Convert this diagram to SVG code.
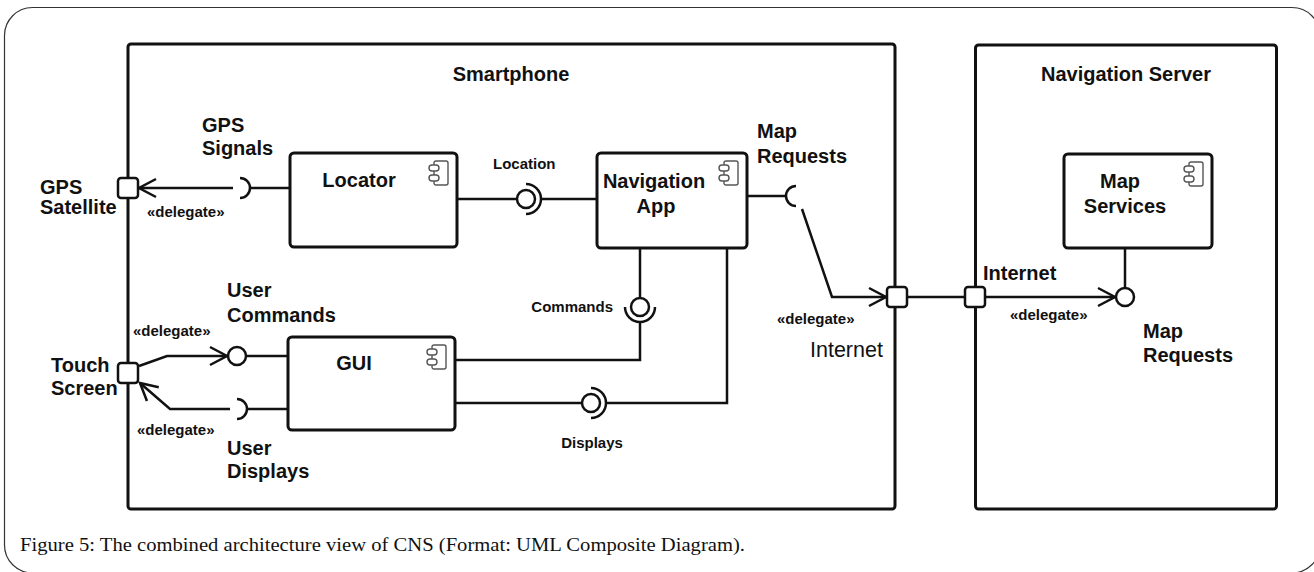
<svg xmlns="http://www.w3.org/2000/svg" width="1314" height="572" viewBox="0 0 1314 572">
  <style>
    .frame { fill: none; stroke: #333; stroke-width: 1.2; }
    .box { fill: #fff; stroke: #111; stroke-width: 3; }
    .part { fill: #fff; stroke: #111; stroke-width: 3; }
    .port { fill: #fff; stroke: #111; stroke-width: 2.5; }
    .wire { fill: none; stroke: #111; stroke-width: 2.5; }
    .ball { fill: #fff; stroke: #111; stroke-width: 2.5; }
    .icon { fill: #fff; stroke: #555; stroke-width: 1.4; }
    .lbl { font-family: "Liberation Sans", Arial, sans-serif; font-weight: bold; font-size: 20px; fill: #111; }
    .sm { font-family: "Liberation Sans", Arial, sans-serif; font-weight: bold; font-size: 15px; fill: #111; }
    .net { font-family: "Liberation Sans", Arial, sans-serif; font-weight: normal; font-size: 21.5px; fill: #111; }
    .cap { font-family: "Liberation Serif", "Times New Roman", serif; font-size: 19px; fill: #111; }
    .mid { text-anchor: middle; }
    .end { text-anchor: end; }
  </style>
  <defs>
    <marker id="open-arrow" viewBox="0 0 20 20" refX="18" refY="10" markerWidth="20" markerHeight="20" markerUnits="userSpaceOnUse" orient="auto" overflow="visible">
      <path d="M1,1 L18,10 L1,19" fill="none" stroke="#111" stroke-width="2.5"/>
    </marker>
    <!-- UML component glyph -->
    <g id="cmp-icon">
      <rect class="icon" x="0" y="0" width="14" height="24" rx="2"/>
      <rect class="icon" x="-5" y="4" width="10" height="6" rx="3"/>
      <rect class="icon" x="-5" y="14" width="10" height="6" rx="3"/>
    </g>
  </defs>

  <rect width="1314" height="572" fill="#fff"/>
  <rect class="frame" x="4.5" y="7.5" width="1315.5" height="565.5" rx="28"/>

  <!-- containers -->
  <g id="smartphone">
    <rect class="box" x="128" y="44" width="767" height="465" rx="3"/>
    <text class="lbl mid" x="511" y="81">Smartphone</text>
  </g>
  <g id="navigation-server">
    <rect class="box" x="975.5" y="45" width="301" height="464" rx="3"/>
    <text class="lbl mid" x="1126" y="81">Navigation Server</text>
  </g>

  <!-- parts -->
  <g id="locator">
    <rect class="part" x="290" y="153" width="167" height="94" rx="4"/>
    <use href="#cmp-icon" x="434" y="161"/>
    <text class="lbl mid" x="359" y="187">Locator</text>
  </g>
  <g id="navigation-app">
    <rect class="part" x="597" y="153" width="150" height="95" rx="4"/>
    <use href="#cmp-icon" x="724" y="161"/>
    <text class="lbl mid" x="654" y="188">Navigation</text>
    <text class="lbl mid" x="656" y="213">App</text>
  </g>
  <g id="gui">
    <rect class="part" x="288" y="337" width="167" height="93" rx="4"/>
    <use href="#cmp-icon" x="432" y="345"/>
    <text class="lbl mid" x="354" y="370">GUI</text>
  </g>
  <g id="map-services">
    <rect class="part" x="1064" y="154" width="148" height="94" rx="4"/>
    <use href="#cmp-icon" x="1189" y="162"/>
    <text class="lbl mid" x="1120" y="188">Map</text>
    <text class="lbl mid" x="1125" y="213">Services</text>
  </g>

  <!-- connectors and interface symbols -->
  <g id="connectors">
    <!-- GPS Signals -->
    <line class="wire" x1="290" y1="188" x2="250" y2="188"/>
    <path class="wire" d="M240,178 A10,10 0 0 1 240,198"/>
    <line class="wire" x1="233" y1="188" x2="139" y2="188" marker-end="url(#open-arrow)"/>

    <!-- Location -->
    <line class="wire" x1="457" y1="199" x2="517" y2="199"/>
    <circle class="ball" cx="526" cy="199" r="9"/>
    <path class="wire" d="M526,184 A15,15 0 0 1 526,214"/>
    <line class="wire" x1="541" y1="199" x2="597" y2="199"/>

    <!-- Map Requests (client side) -->
    <line class="wire" x1="747" y1="196" x2="786" y2="196"/>
    <path class="wire" d="M796,186 A10,10 0 0 0 796,206"/>
    <polyline class="wire" points="802,209 832,297 886,297" marker-end="url(#open-arrow)"/>

    <!-- Internet link between ports -->
    <line class="wire" x1="907" y1="297" x2="965" y2="297"/>

    <!-- Map Requests (server side) -->
    <line class="wire" x1="985" y1="297" x2="1115" y2="297" marker-end="url(#open-arrow)"/>
    <line class="wire" x1="1125" y1="248" x2="1125" y2="288"/>
    <circle class="ball" cx="1125" cy="297" r="9"/>

    <!-- Commands -->
    <line class="wire" x1="640" y1="248" x2="640" y2="298"/>
    <circle class="ball" cx="640" cy="307" r="9"/>
    <path class="wire" d="M625,307 A15,15 0 0 0 655,307"/>
    <polyline class="wire" points="640,322 640,360 455,360"/>

    <!-- Displays -->
    <line class="wire" x1="455" y1="403" x2="582" y2="403"/>
    <circle class="ball" cx="591" cy="403" r="9"/>
    <path class="wire" d="M591,388 A15,15 0 0 1 591,418"/>
    <polyline class="wire" points="606,403 727,403 727,248"/>

    <!-- User Commands -->
    <line class="wire" x1="288" y1="356" x2="246" y2="356"/>
    <circle class="ball" cx="237" cy="356" r="9"/>
    <polyline class="wire" points="139,366 167,356 227,356" marker-end="url(#open-arrow)"/>

    <!-- User Displays -->
    <line class="wire" x1="288" y1="409" x2="247" y2="409"/>
    <path class="wire" d="M237,399 A10,10 0 0 1 237,419"/>
    <polyline class="wire" points="230,409 170,409 140,383" marker-end="url(#open-arrow)"/>
  </g>

  <!-- ports -->
  <g id="port-gps">
    <rect class="port" x="118" y="178" width="20" height="20" rx="3"/>
    <text class="lbl" x="40" y="194">GPS</text>
    <text class="lbl" x="40" y="214">Satellite</text>
  </g>
  <g id="port-touch">
    <rect class="port" x="118" y="363" width="20" height="20" rx="3"/>
    <text class="lbl" x="51" y="372">Touch</text>
    <text class="lbl" x="51" y="395">Screen</text>
  </g>
  <g id="port-phone-internet">
    <rect class="port" x="887" y="287" width="20" height="20" rx="3"/>
    <text class="net" x="810" y="357">Internet</text>
  </g>
  <g id="port-server-internet">
    <rect class="port" x="965" y="287" width="20" height="20" rx="3"/>
    <text class="lbl" x="983" y="280">Internet</text>
  </g>

  <!-- interface and dependency labels -->
  <g id="labels">
    <text class="lbl" x="202" y="132">GPS</text>
    <text class="lbl" x="202" y="155">Signals</text>
    <text class="sm" x="147" y="217">«delegate»</text>
    <text class="sm" x="493" y="169">Location</text>
    <text class="lbl" x="757" y="138">Map</text>
    <text class="lbl" x="757" y="163">Requests</text>
    <text class="lbl" x="227" y="297">User</text>
    <text class="lbl" x="227" y="322">Commands</text>
    <text class="sm" x="133" y="336">«delegate»</text>
    <text class="sm end" x="613" y="312">Commands</text>
    <text class="sm" x="137" y="435">«delegate»</text>
    <text class="lbl" x="227" y="455">User</text>
    <text class="lbl" x="227" y="478">Displays</text>
    <text class="sm mid" x="592" y="448">Displays</text>
    <text class="sm" x="777" y="324">«delegate»</text>
    <text class="sm" x="1010" y="320">«delegate»</text>
    <text class="lbl" x="1143" y="338">Map</text>
    <text class="lbl" x="1143" y="362">Requests</text>
  </g>

  <text class="cap" x="20" y="551" textLength="725" lengthAdjust="spacingAndGlyphs">Figure 5: The combined architecture view of CNS (Format: UML Composite Diagram).</text>
</svg>
